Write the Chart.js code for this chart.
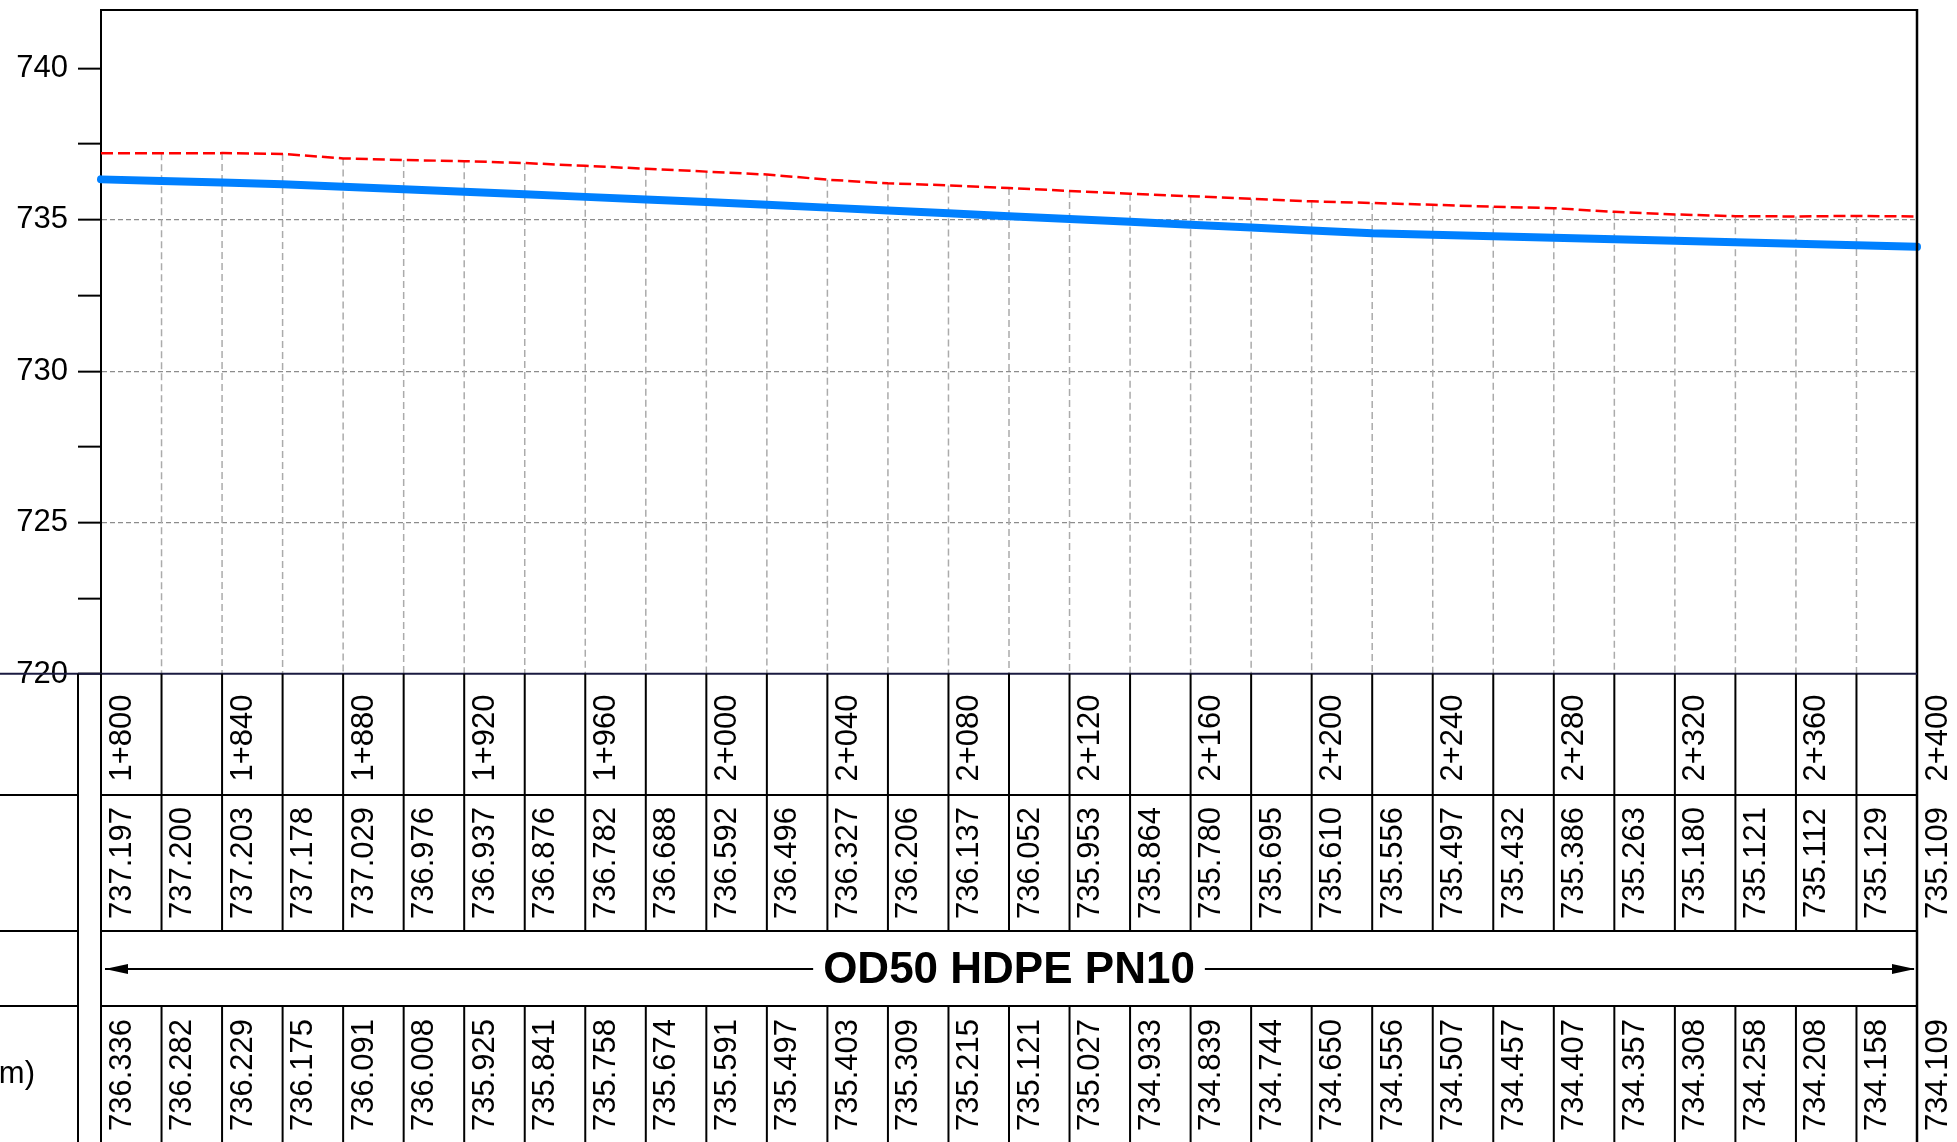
<!DOCTYPE html>
<html>
<head>
<meta charset="utf-8">
<script src="https://cdn.jsdelivr.net/npm/chart.js@4.4.1/dist/chart.umd.min.js"></script>
<style>
  html, body { margin: 0; padding: 0; background: #fff; }
  #wrap { width: 1957px; height: 1142px; position: relative; }
</style>
</head>
<body>
<div id="wrap"><canvas id="myChart"></canvas></div>
<script>
// chainage (m)
const stations = [1800, 1820, 1840, 1860, 1880, 1900, 1920, 1940, 1960, 1980, 2000,
  2020, 2040, 2060, 2080, 2100, 2120, 2140, 2160, 2180, 2200,
  2220, 2240, 2260, 2280, 2300, 2320, 2340, 2360, 2380, 2400];
const stationLabels = ['1+800', '', '1+840', '', '1+880', '', '1+920', '', '1+960', '', '2+000',
  '', '2+040', '', '2+080', '', '2+120', '', '2+160', '', '2+200',
  '', '2+240', '', '2+280', '', '2+320', '', '2+360', '', '2+400'];
// ground level (red dashed)
const groundLevels = [737.197, 737.200, 737.203, 737.178, 737.029, 736.976, 736.937, 736.876, 736.782, 736.688, 736.592,
  736.496, 736.327, 736.206, 736.137, 736.052, 735.953, 735.864, 735.780, 735.695, 735.610,
  735.556, 735.497, 735.432, 735.386, 735.263, 735.180, 735.121, 735.112, 735.129, 735.109];
// pipe invert level (blue)
const invertLevels = [736.336, 736.282, 736.229, 736.175, 736.091, 736.008, 735.925, 735.841, 735.758, 735.674, 735.591,
  735.497, 735.403, 735.309, 735.215, 735.121, 735.027, 734.933, 734.839, 734.744, 734.650,
  734.556, 734.507, 734.457, 734.407, 734.357, 734.308, 734.258, 734.208, 734.158, 734.109];
const yTicks = [720, 722.5, 725, 727.5, 730, 732.5, 735, 737.5, 740];
const yTickLabels = ['720', '', '725', '', '730', '', '735', '', '740'];
const yGridValues = [725, 730, 735];
const pipeLabel = 'OD50 HDPE PN10';
const invertRowLabel = '(m)';

const FONT = '"Liberation Sans", Arial, sans-serif';

// table rows under the plot (canvas px)
const ROW_TOP = 673.7;
const ROW_STATION = 795;
const ROW_GROUND = 931;
const ROW_PIPE = 1006;
const LEFT_LINE = 78;

function vText(ctx, txt, x, y) {
  ctx.save();
  ctx.translate(x, y);
  ctx.rotate(-Math.PI / 2);
  ctx.fillText(txt, 0, 0);
  ctx.restore();
}

function hLine(ctx, x1, x2, y) {
  ctx.beginPath();
  ctx.moveTo(x1, y);
  ctx.lineTo(x2, y);
  ctx.stroke();
}

function vLine(ctx, x, y1, y2) {
  ctx.beginPath();
  ctx.moveTo(x, y1);
  ctx.lineTo(x, y2);
  ctx.stroke();
}

const profileTable = {
  id: 'profileTable',
  beforeDatasetsDraw(chart) {
    const {ctx, chartArea, scales: {x, y}} = chart;
    ctx.save();
    ctx.strokeStyle = '#ababab';
    ctx.lineWidth = 1.5;
    ctx.setLineDash([7, 4]);
    stations.forEach((s, i) => {
      if (i === 0 || i === stations.length - 1) return;
      vLine(ctx, x.getPixelForValue(s), y.getPixelForValue(groundLevels[i]), chartArea.bottom);
    });
    ctx.restore();
  },
  afterDraw(chart) {
    const {ctx, chartArea, scales: {x}} = chart;
    const H = chart.height;
    const L = chartArea.left, R = chartArea.right;
    ctx.save();

    // frame
    ctx.strokeStyle = '#000';
    ctx.lineWidth = 2;
    hLine(ctx, L, R, chartArea.top);
    ctx.lineWidth = 2.5;
    vLine(ctx, R, chartArea.top - 1, H);

    // table top (720 line)
    ctx.strokeStyle = '#1a1a40';
    ctx.lineWidth = 2;
    hLine(ctx, 0, R, ROW_TOP);

    ctx.strokeStyle = '#000';
    vLine(ctx, LEFT_LINE, ROW_TOP, H);
    vLine(ctx, L, ROW_TOP, H);
    [ROW_STATION, ROW_GROUND, ROW_PIPE].forEach(r => {
      hLine(ctx, 0, LEFT_LINE, r);
      hLine(ctx, L, R, r);
    });

    // column lines
    stations.forEach((s, i) => {
      if (i === 0 || i === stations.length - 1) return;
      const px = x.getPixelForValue(s);
      vLine(ctx, px, ROW_TOP, ROW_GROUND);
      vLine(ctx, px, ROW_PIPE, H);
    });

    // texts
    ctx.fillStyle = '#000';
    ctx.font = '31px ' + FONT;
    ctx.textAlign = 'center';
    ctx.textBaseline = 'middle';
    stations.forEach((s, i) => {
      const px = x.getPixelForValue(s) + 21;
      if (stationLabels[i]) vText(ctx, stationLabels[i], px, 738);
      vText(ctx, groundLevels[i].toFixed(3), px, 863);
      vText(ctx, invertLevels[i].toFixed(3), px, 1075);
    });

    ctx.textAlign = 'right';
    ctx.fillText(invertRowLabel, 35, 1074);

    // pipe arrow
    const ay = 969;
    ctx.lineWidth = 2;
    hLine(ctx, L + 4, R - 3, ay);
    ctx.beginPath();
    ctx.moveTo(L + 4, ay);
    ctx.lineTo(L + 27, ay - 5);
    ctx.lineTo(L + 27, ay + 5);
    ctx.closePath();
    ctx.fill();
    ctx.beginPath();
    ctx.moveTo(R - 2, ay);
    ctx.lineTo(R - 25, ay - 5);
    ctx.lineTo(R - 25, ay + 5);
    ctx.closePath();
    ctx.fill();

    ctx.font = 'bold 44px ' + FONT;
    ctx.textAlign = 'center';
    const cx = (L + R) / 2;
    const tw = ctx.measureText(pipeLabel).width;
    ctx.fillStyle = '#fff';
    ctx.fillRect(cx - tw / 2 - 10, ay - 20, tw + 20, 40);
    ctx.fillStyle = '#000';
    ctx.fillText(pipeLabel, cx, ay + 2);

    ctx.restore();
  }
};

const ctx = document.getElementById('myChart').getContext('2d');

new Chart(ctx, {
  type: 'line',
  data: {
    datasets: [{
      label: 'Ground level',
      data: stations.map((s, i) => ({x: s, y: groundLevels[i]})),
      borderColor: '#ff0000',
      borderWidth: 2.5,
      borderDash: [12, 5],
      pointRadius: 0,
      tension: 0,
      fill: false
    }, {
      label: 'Invert level',
      data: stations.map((s, i) => ({x: s, y: invertLevels[i]})),
      borderColor: '#0080ff',
      borderWidth: 8,
      borderCapStyle: 'round',
      borderJoinStyle: 'round',
      pointRadius: 0,
      tension: 0,
      fill: false,
      clip: false
    }]
  },
  options: {
    responsive: true,
    maintainAspectRatio: false,
    animation: false,
    layout: { padding: { left: 0, top: 10, right: 40, bottom: 468 } },
    plugins: { legend: { display: false }, tooltip: { enabled: false } },
    scales: {
      x: {
        type: 'linear',
        min: stations[0],
        max: stations[stations.length - 1],
        display: false
      },
      y: {
        type: 'linear',
        position: 'left',
        min: 720,
        max: 741.93,
        afterBuildTicks: axis => { axis.ticks = yTicks.map(v => ({value: v})); },
        afterFit: axis => { axis.width = 101; axis.paddingTop = 0; axis.paddingBottom = 0; },
        ticks: {
          padding: 10,
          color: '#000',
          font: { family: FONT, size: 31 },
          callback: (v, i) => yTickLabels[i]
        },
        grid: {
          drawOnChartArea: true,
          color: c => (c.tick && yGridValues.includes(c.tick.value)) ? '#8c8c8c' : 'rgba(0,0,0,0)',
          lineWidth: 1.3,
          tickColor: '#000',
          tickLength: 23,
          tickWidth: 2
        },
        border: { display: true, color: '#000', width: 2, dash: [5, 3] }
      }
    }
  },
  plugins: [profileTable]
});
</script>
</body>
</html>
